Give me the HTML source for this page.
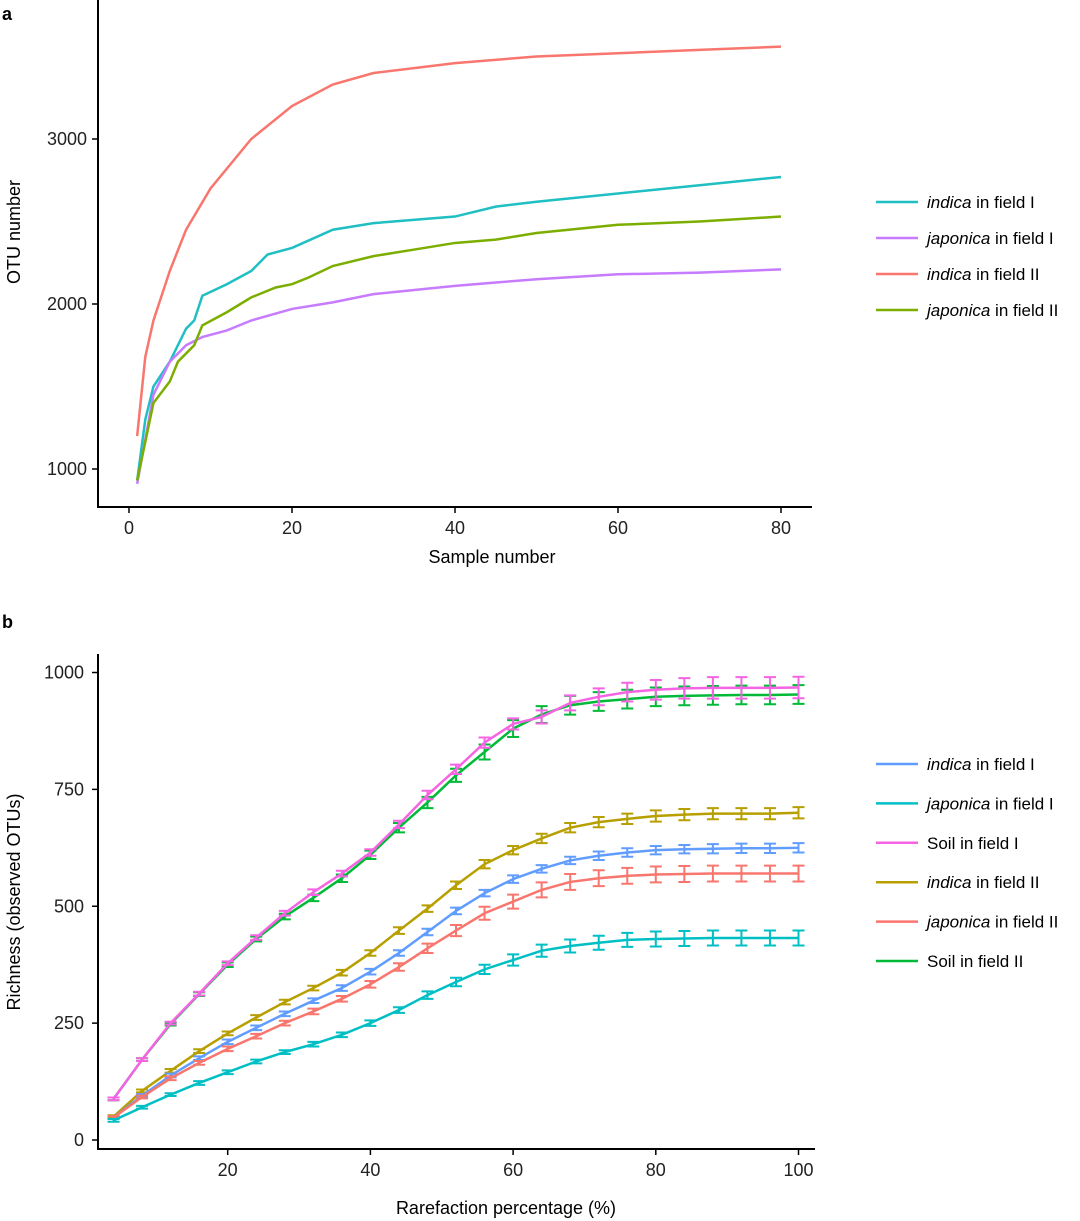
<!DOCTYPE html>
<html><head><meta charset="utf-8"><style>
body{margin:0;background:#fff;width:1080px;height:1221px;overflow:hidden}
svg{display:block;font-family:"Liberation Sans",Arial,sans-serif}
</style></head><body>
<svg id="chart" width="1080" height="1221" viewBox="0 0 1080 1221">
<text x="2" y="20" font-size="18" font-weight="bold">a</text>
<text x="2" y="628" font-size="18" font-weight="bold">b</text>
<g id="ga"></g>
<g id="gb"></g>
</svg>
<script>
// Panel A data
const aX_indicaI=[1,2,3,5,7,8,9,12,15,17,20,25,30,40,45,50,60,70,80];
const aY_indicaI=[930,1300,1500,1650,1850,1900,2050,2120,2200,2300,2340,2450,2490,2530,2590,2620,2670,2720,2770];
const aX_japonicaI=[1,3,5,7,9,12,15,20,25,30,40,45,50,60,70,80];
const aY_japonicaI=[910,1450,1650,1750,1800,1840,1900,1970,2010,2060,2110,2130,2150,2180,2190,2210];
const aX_indicaII=[1,2,3,5,7,10,15,20,25,30,40,50,60,70,80];
const aY_indicaII=[1200,1680,1900,2200,2450,2700,3000,3200,3330,3400,3460,3500,3520,3540,3560];
const aX_japonicaII=[1,3,5,6,8,9,12,15,18,20,22,25,30,35,40,45,50,60,70,80];
const aY_japonicaII=[930,1400,1530,1650,1750,1870,1950,2040,2100,2120,2160,2230,2290,2330,2370,2390,2430,2480,2500,2530];
const aXTicks=[0,20,40,60,80];
const aYTicks=[1000,2000,3000];
// Panel B data
const bX=[4,8,12,16,20,24,28,32,36,40,44,48,52,56,60,64,68,72,76,80,84,88,92,96,100];
const bIndicaI=[48,95,138,175,210,240,270,298,325,360,400,445,490,528,558,580,598,608,615,620,622,623,624,624,625];
const bJaponicaI=[42,70,97,122,145,168,188,205,225,250,278,310,338,365,385,405,415,422,428,430,431,432,432,432,432];
const bSoilI=[88,172,250,313,378,433,485,530,570,615,675,738,793,850,890,905,935,948,958,963,966,967,967,967,968];
const bIndicaII=[50,105,148,190,228,262,295,325,358,400,448,495,545,590,620,645,668,680,687,693,696,698,698,698,700];
const bJaponicaII=[48,92,132,165,195,222,250,275,302,333,370,410,448,485,510,535,552,560,565,568,569,570,570,570,570];
const bSoilII=[88,172,248,312,375,430,478,518,560,610,668,722,780,830,880,910,930,938,943,948,950,951,952,952,953];
const bErrIndicaI=[3,3,4,4,5,5,5,5,6,6,6,7,7,7,8,8,8,9,9,9,9,10,10,10,10];
const bErrJaponicaI=[3,3,3,4,4,4,4,5,5,6,6,8,9,10,12,13,14,15,15,16,16,16,16,16,16];
const bErrSoilI=[3,3,3,4,4,5,5,6,6,7,8,9,10,11,12,14,16,18,20,21,22,23,23,23,23];
const bErrIndicaII=[3,3,4,4,4,5,5,5,6,6,7,7,8,9,9,10,10,11,11,12,12,12,12,12,12];
const bErrJaponicaII=[3,3,4,4,5,5,5,6,6,7,8,10,12,14,15,16,17,17,17,17,17,17,17,17,17];
const bErrSoilII=[3,3,3,4,5,5,6,7,8,9,10,12,14,16,18,18,20,20,20,20,20,20,20,20,20];
const bXTicks=[20,40,60,80,100];
const bYTicks=[0,250,500,750,1000];

const NS="http://www.w3.org/2000/svg";
function mk(p,t,at){const e=document.createElementNS(NS,t);for(const k in at)e.setAttribute(k,at[k]);p.appendChild(e);return e;}
const ax=v=>129+(v)*8.15, ay=v=>469-(v-1000)*0.165;
const bx=v=>85+v*7.135, by=v=>1140-v*0.4675;

const ga=document.getElementById('ga'), gb=document.getElementById('gb');
let e=mk(ga,'line',{x1:98,y1:0,x2:98,y2:507,stroke:'#000','stroke-width':2});


e=mk(ga,'line',{x1:97,y1:507,x2:812,y2:507,stroke:'#000','stroke-width':2});


aXTicks.forEach(t=>{mk(ga,'line',{x1:ax(t),y1:507,x2:ax(t),y2:513,stroke:'#000','stroke-width':1.5});
 const tx=mk(ga,'text',{x:ax(t),y:534,'font-size':18,'text-anchor':'middle',fill:'#222'});tx.textContent=t;
 
 });
aYTicks.forEach(t=>{mk(ga,'line',{x1:92,y1:ay(t),x2:98,y2:ay(t),stroke:'#000','stroke-width':1.5});
 const tx=mk(ga,'text',{x:87,y:ay(t)+6,'font-size':18,'text-anchor':'end',fill:'#222'});tx.textContent=t;
 
 });
e=mk(ga,'text',{x:492,y:563,'font-size':18,'text-anchor':'middle'});e.textContent='Sample number';


e=mk(ga,'text',{x:20,y:232,'font-size':18,'text-anchor':'middle',transform:'rotate(-90 20 232)'});e.textContent='OTU number';


const aSeries=[[aX_indicaI,aY_indicaI,'#1fbfc3','indica'," in field I"],[aX_japonicaI,aY_japonicaI,'#c77cff','japonica'," in field I"],[aX_indicaII,aY_indicaII,'#f8766d','indica'," in field II"],[aX_japonicaII,aY_japonicaII,'#7cae00','japonica'," in field II"]];
aSeries.forEach((s,i)=>{
 const p=mk(ga,'polyline',{points:s[0].map((x,j)=>ax(x)+','+ay(s[1][j])).join(' '),fill:'none',stroke:s[2],'stroke-width':2.5});
 
 
 const ly=202+i*36;
 mk(ga,'line',{x1:876,y1:ly,x2:918,y2:ly,stroke:s[2],'stroke-width':2.5});
 const t=mk(ga,'text',{x:927,y:ly+6,'font-size':17});
 
 
 const it=mk(t,'tspan',{'font-style':'italic'});it.textContent=s[3];
 const r=mk(t,'tspan',{});r.textContent=s[4];
});
e=mk(gb,'line',{x1:98,y1:654,x2:98,y2:1149,stroke:'#000','stroke-width':2});


e=mk(gb,'line',{x1:97,y1:1149,x2:815,y2:1149,stroke:'#000','stroke-width':2});


bXTicks.forEach(t=>{mk(gb,'line',{x1:bx(t),y1:1149,x2:bx(t),y2:1155,stroke:'#000','stroke-width':1.5});
 const tx=mk(gb,'text',{x:bx(t),y:1176,'font-size':18,'text-anchor':'middle',fill:'#222'});tx.textContent=t;
 
 });
bYTicks.forEach(t=>{mk(gb,'line',{x1:92,y1:by(t),x2:98,y2:by(t),stroke:'#000','stroke-width':1.5});
 const tx=mk(gb,'text',{x:84,y:by(t)+6,'font-size':18,'text-anchor':'end',fill:'#222'});tx.textContent=t;
 
 });
e=mk(gb,'text',{x:506,y:1214,'font-size':18,'text-anchor':'middle'});e.textContent='Rarefaction percentage (%)';


e=mk(gb,'text',{x:20,y:902,'font-size':18,'text-anchor':'middle',transform:'rotate(-90 20 902)'});e.textContent='Richness (observed OTUs)';


const bSeries=[[bIndicaI,bErrIndicaI,'#619cff','indica',' in field I'],[bJaponicaI,bErrJaponicaI,'#00bfc4','japonica',' in field I'],[bSoilI,bErrSoilI,'#f564e3','','Soil in field I'],[bIndicaII,bErrIndicaII,'#b79f00','indica',' in field II'],[bJaponicaII,bErrJaponicaII,'#f8766d','japonica',' in field II'],[bSoilII,bErrSoilII,'#00ba38','','Soil in field II']];
const drawOrder=[5,2,3,0,4,1];
drawOrder.forEach(i=>{const s=bSeries[i];
 const g=mk(gb,'g',{});
 
 
 const p=mk(g,'polyline',{points:bX.map((x,j)=>bx(x)+','+by(s[0][j])).join(' '),fill:'none',stroke:s[2],'stroke-width':2.5});
 
 
 bX.forEach((x,j)=>{const X=bx(x),t=by(s[0][j]+s[1][j]),b=by(s[0][j]-s[1][j]);
  const eb=mk(g,'path',{d:`M${X-6},${t}H${X+6}M${X},${t}V${b}M${X-6},${b}H${X+6}`,stroke:s[2],'stroke-width':2,fill:'none'});
  
  });
});
bSeries.forEach((s,i)=>{const ly=764+i*39.4;
 mk(gb,'line',{x1:876,y1:ly,x2:918,y2:ly,stroke:s[2],'stroke-width':2.5});
 const t=mk(gb,'text',{x:927,y:ly+6,'font-size':17});
 
 
 if(s[3]){const it=mk(t,'tspan',{'font-style':'italic'});it.textContent=s[3];}
 const r=mk(t,'tspan',{});r.textContent=s[4];
});
</script>
</body></html>
